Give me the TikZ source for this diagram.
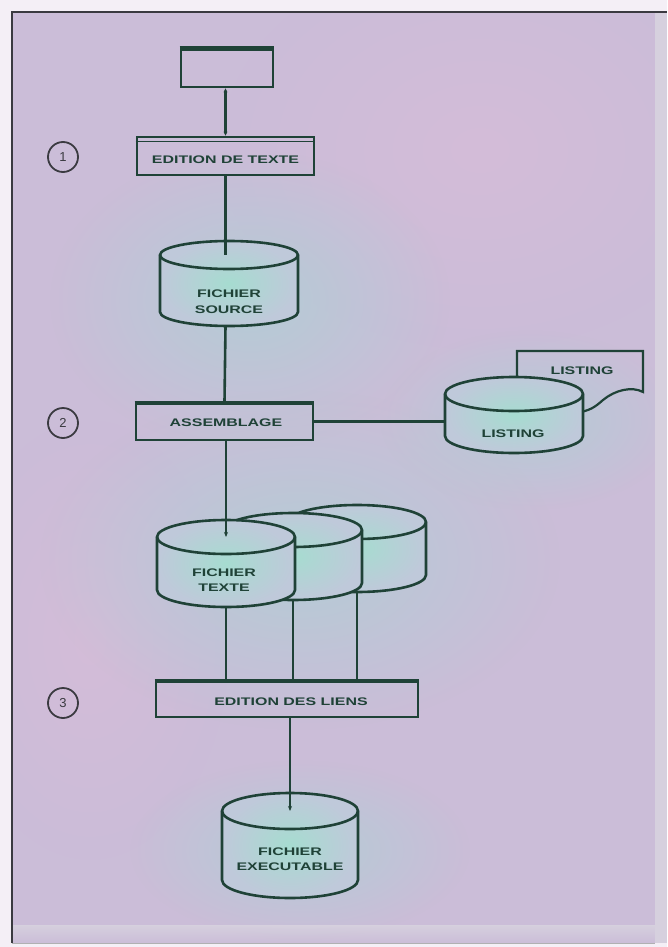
\documentclass[tikz,border=0pt]{standalone}
\usepackage{fontspec}
\usepackage{graphicx}
\setsansfont{Liberation Sans}
\usetikzlibrary{arrows.meta,fadings}

\definecolor{paper}{HTML}{F4EFF6}
\definecolor{bgbase}{HTML}{CBBDD8}
\definecolor{glowA}{HTML}{B4CCD6}
\definecolor{glowB}{HTML}{D4BCD8}
\definecolor{rimlight}{HTML}{D6D0DE}
\definecolor{ink}{HTML}{1F4237}
\definecolor{frameink}{HTML}{3A3A40}
\definecolor{cylin}{HTML}{A6DCD0}
\definecolor{cylout}{HTML}{BFC9DA}

\tikzfading[name=softglow, inner color=transparent!0, outer color=transparent!100]

% horizontally stretched lettering
\newcommand\wide[1]{\scalebox{1.45}[1]{#1}}

% drum: name, centre x, y of upper face centre, y where walls end, half width, half height of the faces
\newcommand\drum[6]{%
  \path[drumbody] (#2-#5,#3) -- (#2-#5,#4)
    arc[start angle=180,end angle=0,x radius=#5,y radius=#6]
    -- (#2+#5,#3)
    arc[start angle=0,end angle=-180,x radius=#5,y radius=#6] -- cycle;
  \draw[wire] (#2-#5,#3) arc[start angle=180,end angle=0,x radius=#5,y radius=#6];
  \coordinate (#1-top) at (#2,#3);
  \coordinate (#1-bot) at (#2,#4+#6);
  \coordinate (#1-w) at (#2-#5,#3);
}

\begin{document}
\begin{tikzpicture}[x=1pt,y=-1pt,
  wire/.style={draw=ink, line width=2.6pt},
  drumbody/.style={draw=ink, line width=2.6pt, inner color=cylin, outer color=cylout},
  procbox/.style={draw=ink, line width=2.6pt, rectangle, inner sep=0pt},
  lbl/.style={text=ink, font=\sffamily\bfseries\fontsize{11}{15.5}\selectfont, align=center, inner sep=0pt},
  stepnum/.style={circle, draw=frameink, line width=1.8pt, minimum size=30pt, inner sep=0pt,
    text=frameink, font=\sffamily\fontsize{13}{13}\selectfont},
  tip/.style={-{Stealth[length=5pt,width=4pt]}},
  both tips/.style={{Stealth[length=4pt,width=4pt]}-{Stealth[length=4pt,width=4pt]}}
]
% sheet and frame
\fill[paper] (0,0) rectangle (667,947);
\useasboundingbox (0,0) rectangle (667,947);
\fill[bgbase] (12,12) rectangle (667,943);
\begin{scope}
  \clip (12,12) rectangle (667,943);
  \fill[glowB, path fading=softglow] (480,150) ellipse [x radius=260, y radius=200];
  \fill[glowB, path fading=softglow] (90,640) ellipse [x radius=140, y radius=220];
  \fill[glowA, path fading=softglow] (250,300) ellipse [x radius=200, y radius=150];
  \fill[glowA, path fading=softglow] (300,560) ellipse [x radius=260, y radius=170];
  \fill[glowA, path fading=softglow] (530,420) ellipse [x radius=150, y radius=90];
  \fill[glowA, path fading=softglow] (300,850) ellipse [x radius=170, y radius=90];
  \fill[rimlight] (655,12) rectangle (667,943);
  \fill[rimlight, path fading=south] (12,925) rectangle (667,943);
\end{scope}
\draw[frameink, line width=2pt] (12,943) -- (12,12) -- (667,12);
\draw[frameink!40, line width=1pt] (12,943) -- (655,943);

% step numbers
\node[stepnum] (c1) at (63,157) {1};
\node[stepnum] (c2) at (63,423) {2};
\node[stepnum] (c3) at (63,703) {3};

% terminal and text editor
\node[procbox, minimum width=92pt, minimum height=39pt] (term) at (227,67.5) {};
\draw[ink, line width=5pt] ([yshift=-2pt]term.north west) -- ([yshift=-2pt]term.north east);
\node[procbox, minimum width=177pt, minimum height=38pt] (edt) at (225.5,156) {};
\draw[ink, line width=1.2pt] ([yshift=-6pt]edt.north west) -- ([yshift=-6pt]edt.north east);
\node[lbl] (edtl) at (225.5,160) {\wide{EDITION DE TEXTE}};
\draw[wire, both tips] (term.south -| edt.north) -- (edt.north);

% source file
\drum{src}{229}{255}{312}{69}{14}
\node[lbl] (srcl) at (229,301.5) {\wide{FICHIER}\\\wide{SOURCE}};
\draw[wire] (edt.south) -- (edt.south |- src-top);

% assembler
\node[procbox, minimum width=177pt, minimum height=37pt] (asm) at (224.5,421.5) {};
\draw[ink, line width=4pt] ([yshift=-1.5pt]asm.north west) -- ([yshift=-1.5pt]asm.north east);
\node[lbl] (asml) at (226,423) {\wide{ASSEMBLAGE}};
\draw[wire] (edt.south |- src-bot) -- (asm.north);

% listing: printed sheet behind the drum
\draw[wire, line width=2.2pt] (517,396) -- (517,351) coordinate (doc-nw) -- (643,351) -- (643,392)
  .. controls (632,386) and (615,390) .. (603,400)
  .. controls (595,407) and (590,411) .. (575,413);
\node[lbl] (docl) at (582,371) {\wide{LISTING}};
\drum{lst}{514}{394}{436}{69}{17}
\node[lbl] (lstl) at (513,434) {\wide{LISTING}};
\draw[wire] (asm.east) -- (lst-w |- asm.east);

% object files
\drum{t3}{357}{522}{575}{69}{17}
\drum{t2}{293}{530}{583}{69}{17}
\drum{txt}{226}{537}{590}{69}{17}
\node[lbl] (txtl) at (224,580) {\wide{FICHIER}\\\wide{TEXTE}};
\draw[wire, tip] (asm.south -| txt-top) -- (txt-top);

% linker
\node[procbox, minimum width=262pt, minimum height=36pt] (edl) at (287,699) {};
\draw[ink, line width=4pt] ([yshift=-1.5pt]edl.north west) -- ([yshift=-1.5pt]edl.north east);
\node[lbl] (edll) at (291,702) {\wide{EDITION DES LIENS}};
\draw[wire] (txt-bot) -- (txt-bot |- edl.north);
\draw[wire] (t2-bot) -- (t2-bot |- edl.north);
\draw[wire] (t3-bot) -- (t3-bot |- edl.north);

% executable file
\drum{exe}{290}{811}{880}{68}{18}
\node[lbl] (exel) at (290,859) {\wide{FICHIER}\\\wide{EXECUTABLE}};
\draw[wire, tip] (exe-top |- edl.south) -- (exe-top);
\end{tikzpicture}
\end{document}
